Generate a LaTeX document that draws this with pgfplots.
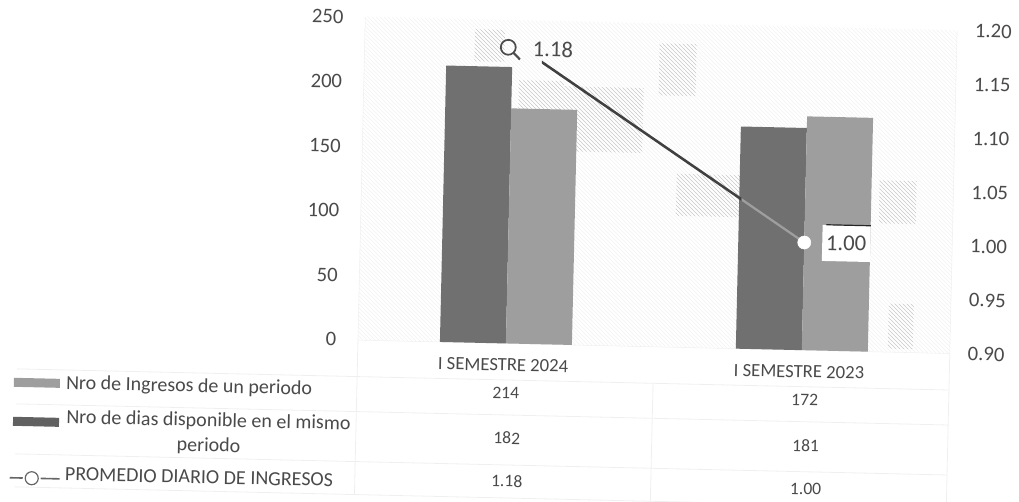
\documentclass[border=0pt]{standalone}
\usepackage{pgfplots}
\pgfplotsset{compat=1.18}
\usepackage{fontspec}
\setmainfont{Carlito}
\usetikzlibrary{patterns}
\definecolor{bardark}{HTML}{707070}
\definecolor{barlight}{HTML}{9E9E9E}
\definecolor{txt}{HTML}{4A4A4A}
\definecolor{tline}{HTML}{EFEFEF}
\pgfdeclareplotmark{lens}{%
  \pgfpathcircle{\pgfpointorigin}{\pgfplotmarksize}%
  \pgfusepathqstroke
  \pgfsetlinewidth{1.6pt}%
  \pgfpathmoveto{\pgfqpoint{0.7\pgfplotmarksize}{-0.7\pgfplotmarksize}}%
  \pgfpathlineto{\pgfqpoint{1.6\pgfplotmarksize}{-1.6\pgfplotmarksize}}%
  \pgfusepathqstroke
}
\begin{document}
\begin{tikzpicture}[x=0.75pt,y=-0.75pt]
\path[use as bounding box] (0,0) rectangle (1019,501);
\begin{scope}[transform canvas={rotate around={-1.3:(509.5,250.5)}}]
% scan texture
\fill[pattern=north west lines,pattern color=black!5] (360,20) rectangle (952,343);
\foreach \a/\b/\c/\d in {470/30/500/62,515/80/560/110,560/85/640/150,655/40/692/92,675/170/740/212,878/172/915/215,890/295/915/340}{
  \fill[pattern=north west lines,pattern color=black!20] (\a,\b) rectangle (\c,\d);
}
% table grid
\draw[tline,line width=0.6pt] (20,380)--(952,380) (20,415)--(952,415) (20,465)--(952,465) (20,498)--(952,498);
\draw[tline,line width=0.6pt] (360,344)--(360,498) (656,380)--(656,498) (952,344)--(952,498);
% bars
\begin{axis}[
  at={(270pt,-257.625pt)},anchor=south west,
  scale only axis,width=444pt,height=242.25pt,
  xmin=-0.5,xmax=1.5,ymin=0,ymax=250,
  ybar=0pt,bar width=49.5pt,
  xtick={0,1},xticklabels={I SEMESTRE 2024,I SEMESTRE 2023},
  ytick={0,50,100,150,200,250},
  major tick length=0pt,
  axis x line*=bottom,axis y line*=left,
  axis line style={draw=tline},
  xticklabel style={font=\fontsize{14}{16}\selectfont,text=txt,xshift=-1.75pt,yshift=-8pt},
  yticklabel style={font=\fontsize{15.5}{18}\selectfont,text=txt,xshift=-12.75pt},
  /pgf/number format/assume math mode=true,
]
\addplot[fill=bardark,draw=none] coordinates {(0,214) (1,172)};
\addplot[fill=barlight,draw=none] coordinates {(0,182) (1,181)};
\end{axis}
% line on secondary axis
\begin{axis}[
  at={(270pt,-257.625pt)},anchor=south west,
  scale only axis,width=444pt,height=242.25pt,
  xmin=-0.5,xmax=1.5,ymin=0.9,ymax=1.2,
  xtick=\empty,
  ytick={0.9,0.95,1.0,1.05,1.1,1.15,1.2},
  yticklabel style={font=\fontsize{15.5}{18}\selectfont,text=txt,xshift=10pt,
    /pgf/number format/fixed,/pgf/number format/fixed zerofill,/pgf/number format/precision=2},
  major tick length=0pt,
  axis x line=none,axis y line*=right,
  axis line style={draw=tline},
  /pgf/number format/assume math mode=true,
  clip=false,
]
\begin{scope}
\clip (axis cs:0.1,1.22) rectangle (axis cs:0.785,0.9);
\addplot[color=black!75,line width=1.9pt,forget plot] coordinates {(0,1.18) (1,1.00)};
\end{scope}
\begin{scope}
\clip (axis cs:0.785,1.22) rectangle (axis cs:1,0.9);
\addplot[color=black!38,line width=1.7pt,forget plot] coordinates {(0,1.18) (1,1.00)};
\end{scope}
\addplot[only marks,mark=lens,mark size=5.6pt,mark options={draw=black!70,line width=1.3pt,xshift=-3.25pt,yshift=-4pt},forget plot] coordinates {(0,1.18)};
\addplot[only marks,mark=*,mark size=4.9pt,mark options={fill=white,draw=white},forget plot] coordinates {(1,1.00)};
\node[font=\fontsize{17}{20}\selectfont,text=txt,xshift=30.25pt,yshift=-4.8pt] at (axis cs:0,1.18) {1.18};
\node[fill=white,inner sep=0pt,minimum width=36pt,minimum height=27pt,font=\fontsize{17}{20}\selectfont,text=txt,xshift=31.5pt] (lab) at (axis cs:1,1.00) {1.00};
\draw[black!85,line width=0.9pt] ([xshift=3pt]lab.north west)--(lab.north east);
\end{axis}
% table values
\foreach \x/\y/\t in {509/393/214,808/393/172,511/438/182,810/439/181,512/481/1.18,811/482/1.00}{
  \node[font=\fontsize{13.2}{16}\selectfont,text=txt] at (\x,\y) {\t};
}
% legend column
\fill[barlight] (17,389) rectangle (63,398);
\fill[black!62] (17,428) rectangle (63,437);
\draw[black!60,line width=1.2pt] (15,489)--(28,489) (46,489)--(65,489);
\draw[black!60,line width=0.9pt,fill=white] (37,489) circle (6.5);
\node[anchor=west,inner sep=0pt,font=\fontsize{15}{17}\selectfont,text=txt] at (69,394) {Nro de Ingresos de un periodo};
\node[anchor=west,inner sep=0pt,font=\fontsize{15}{17}\selectfont,text=txt] at (70,428) {Nro de dias disponible en el mismo};
\node[inner sep=0pt,font=\fontsize{15}{17}\selectfont,text=txt] at (213,453) {periodo};
\node[anchor=west,inner sep=0pt,font=\fontsize{15}{17}\selectfont,text=txt] at (70,484) {PROMEDIO DIARIO DE INGRESOS};
\end{scope}
\end{tikzpicture}
\end{document}
